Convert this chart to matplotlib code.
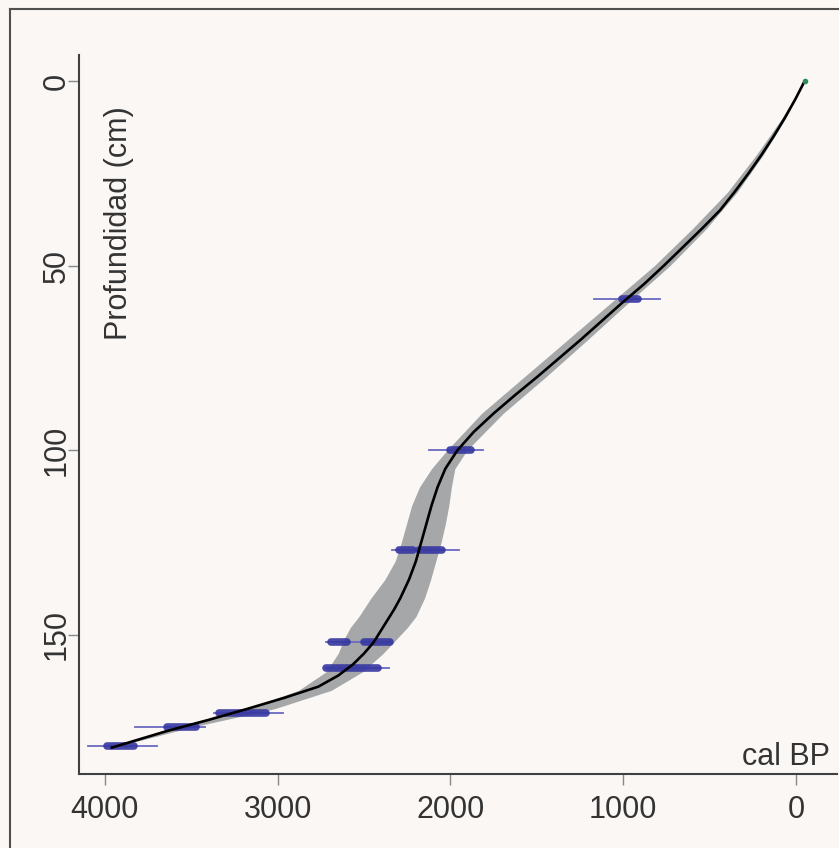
import numpy as np
import matplotlib
matplotlib.use('Agg')
import matplotlib.pyplot as plt
from matplotlib.lines import Line2D

# Age-depth model: mean curve
curve_depth = [0, 5, 10, 15, 20, 25, 30, 35, 40, 45, 50, 55, 60, 65, 70, 75, 80, 85, 90, 95,
               100, 105, 110, 115, 120, 125, 130, 135, 140, 143, 146, 149, 152, 155, 158, 161, 164,
               167, 170, 173, 176, 180.5]
curve_age = [-50, 5, 65, 130, 200, 275, 355, 440, 545, 655, 765, 880, 1005, 1125, 1245, 1370, 1495, 1625, 1750, 1865,
             1960, 2030, 2075, 2110, 2140, 2170, 2200, 2240, 2290, 2325, 2365, 2405, 2445, 2500, 2565, 2650, 2765,
             2960, 3175, 3400, 3640, 3960]

# uncertainty envelope
band_depth = [0, 10, 20, 30, 40, 50, 60, 70, 80, 90, 100, 105, 110, 115, 120, 125, 130, 135, 140, 145,
              148, 151, 155, 160, 165, 170, 175, 180.5]
band_old = [-50, 80, 230, 395, 600, 820, 1070, 1320, 1570, 1820, 2020, 2110, 2180, 2225, 2255, 2285, 2320, 2380, 2460, 2530,
            2580, 2615, 2650, 2720, 2880, 3180, 3590, 3960]
band_young = [-50, 60, 190, 340, 520, 730, 970, 1205, 1445, 1695, 1905, 1975, 1995, 2010, 2030, 2055, 2085, 2115, 2150, 2200,
              2250, 2310, 2390, 2510, 2690, 3020, 3500, 3960]

# calibrated dates: full range
date_depth = [59, 100, 127, 152, 159, 171, 175, 180]
date_young = [790, 1810, 1950, 2346, 2357, 2970, 3420, 3700]
date_old = [1170, 2127, 2340, 2722, 2722, 3370, 3826, 4098]

# high probability parts of each date
seg_depth = [59, 100, 127, 127, 152, 152, 159, 171, 175, 180]
seg_young = [915, 1880, 2050, 2215, 2350, 2600, 2420, 3065, 3475, 3830]
seg_old = [1010, 2000, 2185, 2300, 2500, 2690, 2720, 3340, 3640, 3990]

x_ticks = [4000, 3000, 2000, 1000, 0]
y_ticks = [0, 50, 100, 150]

plt.rcParams['font.family'] = ['Liberation Sans', 'DejaVu Sans']
bg = '#faf7f5'
txt = '#333333'

fig = plt.figure(figsize=(8.39, 8.48), dpi=100, facecolor=bg)
ax = fig.add_axes([79 / 839, 1 - 774 / 848, (837 - 79) / 839, (774 - 55) / 848])
ax.set_facecolor(bg)

ax.fill_betweenx(band_depth, band_young, band_old, color='#a5a7a8', lw=0, zorder=1)

for d, y0, y1 in zip(date_depth, date_young, date_old):
    ax.plot([y0, y1], [d, d], color='#6a6ac0', lw=1.3, zorder=3)
for d, y0, y1 in zip(seg_depth, seg_young, seg_old):
    ax.plot([y0, y1], [d, d], color='#3636a2', lw=5.5, solid_capstyle='round', alpha=0.9, zorder=4)

ax.plot(curve_age, curve_depth, color='black', lw=1.9, zorder=5)
ax.plot(curve_age[0], curve_depth[0], 'o', color='#2e8b57', ms=3, zorder=6)

ax.set_xlim(4150, -237)
ax.set_ylim(187.65, -7.04)

ax.set_xticks(x_ticks)
ax.set_yticks(y_ticks)
ax.set_xticklabels([str(v) for v in x_ticks])
ax.set_yticklabels([str(v) for v in y_ticks], rotation=90, va='center')
ax.tick_params(axis='both', labelsize=22, labelcolor=txt, color='#888888', length=8, width=1)
ax.tick_params(axis='x', pad=7)
ax.tick_params(axis='y', pad=-3)

for s in ['top', 'right']:
    ax.spines[s].set_visible(False)
for s in ['left', 'bottom']:
    ax.spines[s].set_color('#404040')
    ax.spines[s].set_linewidth(1.5)

fig.text(119 / 839, 1 - 223 / 848, 'Profundidad (cm)', rotation=90, ha='center', va='center',
         fontsize=22, color=txt)
fig.text(830 / 839, 1 - 765 / 848, 'cal BP', ha='right', va='baseline', fontsize=22, color=txt)

# outer frame (left and top edges only visible)
fig.add_artist(Line2D([10 / 839, 10 / 839], [0, 1 - 9 / 848], transform=fig.transFigure, color='#505050', lw=1.5))
fig.add_artist(Line2D([10 / 839, 1], [1 - 9 / 848, 1 - 9 / 848], transform=fig.transFigure, color='#505050', lw=1.5))

fig.savefig('out.png', dpi=100, facecolor=bg)
